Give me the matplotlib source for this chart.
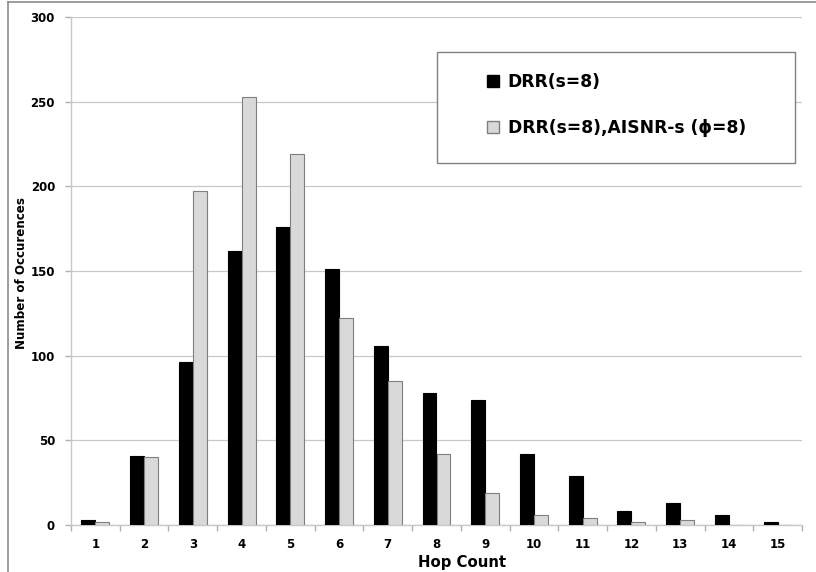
import matplotlib
matplotlib.use("Agg")
import matplotlib.pyplot as plt
from matplotlib.lines import Line2D
from matplotlib.patches import Rectangle, Patch
import numpy as np

# Hop count histogram data
hop_counts = [1, 2, 3, 4, 5, 6, 7, 8, 9, 10, 11, 12, 13, 14, 15]
drr = [3, 41, 96, 162, 176, 151, 106, 78, 74, 42, 29, 8, 13, 6, 2]
drr_aisnr = [2, 40, 197, 253, 219, 122, 85, 42, 19, 6, 4, 2, 3, 0, 0]
series_labels = ["DRR(s=8)", "DRR(s=8),AISNR-s (\u03d5=8)"]
y_ticks = [0, 50, 100, 150, 200, 250, 300]

FONT = ["DejaVu Sans"]
plt.rcParams["font.family"] = FONT

W, H = 816, 572
fig = plt.figure(figsize=(W / 100, H / 100), dpi=100)
ax = fig.add_axes([71 / W, 1 - 525 / H, (802 - 71) / W, (525 - 17) / H])

x = np.array(hop_counts, dtype=float)
bw = 0.287
ax.bar(x - bw / 2, drr, width=bw, color="#000000", edgecolor="#000000",
       linewidth=0.8, zorder=3)
ax.bar(x + bw / 2, drr_aisnr, width=bw, color="#d9d9d9", edgecolor="#7f7f7f",
       linewidth=0.8, zorder=3)

ax.set_xlim(0.5, 15.5)
ax.set_ylim(0, 300)

ax.set_yticks(y_ticks)
ax.yaxis.grid(True, color="#c8c8c8", linewidth=0.9, zorder=0)
ax.set_axisbelow(True)

ax.set_xticks(hop_counts)
ax.set_xticks(np.arange(0.5, 16, 1.0), minor=True)
ax.tick_params(axis="x", which="major", length=0, pad=9.5, labelsize=8.5)
ax.tick_params(axis="x", which="minor", length=4, direction="out",
               color="#b0b0b0", width=1.0)
ax.tick_params(axis="y", length=4.5, direction="out", color="#b0b0b0",
               width=1.0, pad=7, labelsize=8.5)
for lab in ax.get_xticklabels() + ax.get_yticklabels():
    lab.set_fontweight("bold")

for side in ["top", "right"]:
    ax.spines[side].set_visible(False)
ax.spines["left"].set_color("#c8c8c8")
ax.spines["bottom"].set_color("#c8c8c8")
ax.spines["left"].set_linewidth(1.0)
ax.spines["bottom"].set_linewidth(1.0)

fig.text(462 / W, 1 - 562 / H, "Hop Count", ha="center", va="center",
         fontsize=10.7, fontweight="bold")
fig.text(22 / W, 1 - 273 / H, "Number of Occurences", ha="center",
         va="center", rotation=90, fontsize=8.6, fontweight="bold")

# legend frame
fig.add_artist(Rectangle((437 / W, 1 - 163 / H), (795 - 437) / W,
                         (163 - 52) / H, transform=fig.transFigure,
                         facecolor="white", edgecolor="#808080",
                         linewidth=1.0, zorder=5))
handles = [Patch(facecolor="#000000", edgecolor="#000000"),
           Patch(facecolor="#d9d9d9", edgecolor="#7f7f7f")]
leg = fig.legend(handles, series_labels, loc="upper left",
                 bbox_to_anchor=(487 / W, 1 - 73 / H), frameon=False,
                 prop={"family": FONT, "weight": "bold", "size": 12.3},
                 handlelength=0.72, handleheight=0.72, handletextpad=0.5,
                 labelspacing=1.65, borderpad=0, borderaxespad=0)
leg.set_zorder(6)

# outer chart border (top and left edges)
fig.add_artist(Line2D([8 / W, 1], [1 - 2 / H, 1 - 2 / H],
                      transform=fig.transFigure, color="#8c8c8c", lw=1.2))
fig.add_artist(Line2D([8 / W, 8 / W], [0, 1 - 2 / H],
                      transform=fig.transFigure, color="#8c8c8c", lw=1.2))

fig.savefig("out.png", dpi=100)
